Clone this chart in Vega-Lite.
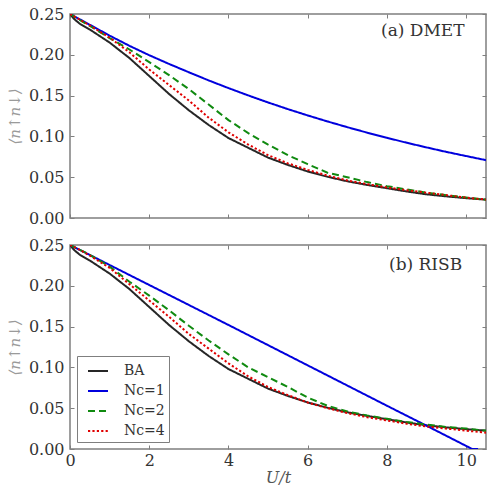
{
  "$schema": "https://vega.github.io/schema/vega-lite/v6.json",
  "padding": {"top": 5, "left": 6, "right": 0, "bottom": 0},
  "bounds": "flush",
  "spacing": 27,
  "datasets": {
    "curves": [
      {"m": "exact", "s": "BA", "U": 0, "d": 0.25},
      {"m": "exact", "s": "BA", "U": 0.1, "d": 0.244},
      {"m": "exact", "s": "BA", "U": 0.25, "d": 0.238},
      {"m": "exact", "s": "BA", "U": 0.5, "d": 0.231},
      {"m": "exact", "s": "BA", "U": 1.0, "d": 0.215},
      {"m": "exact", "s": "BA", "U": 1.5, "d": 0.196},
      {"m": "exact", "s": "BA", "U": 2.0, "d": 0.174},
      {"m": "exact", "s": "BA", "U": 2.5, "d": 0.152},
      {"m": "exact", "s": "BA", "U": 3.0, "d": 0.132},
      {"m": "exact", "s": "BA", "U": 3.5, "d": 0.114},
      {"m": "exact", "s": "BA", "U": 4.0, "d": 0.098},
      {"m": "exact", "s": "BA", "U": 4.5, "d": 0.086},
      {"m": "exact", "s": "BA", "U": 5.0, "d": 0.074},
      {"m": "exact", "s": "BA", "U": 5.5, "d": 0.065},
      {"m": "exact", "s": "BA", "U": 6.0, "d": 0.057},
      {"m": "exact", "s": "BA", "U": 6.5, "d": 0.0505},
      {"m": "exact", "s": "BA", "U": 7.0, "d": 0.045},
      {"m": "exact", "s": "BA", "U": 7.5, "d": 0.0405},
      {"m": "exact", "s": "BA", "U": 8.0, "d": 0.0365},
      {"m": "exact", "s": "BA", "U": 8.5, "d": 0.0325},
      {"m": "exact", "s": "BA", "U": 9.0, "d": 0.029},
      {"m": "exact", "s": "BA", "U": 9.5, "d": 0.0265},
      {"m": "exact", "s": "BA", "U": 10.0, "d": 0.0243},
      {"m": "exact", "s": "BA", "U": 10.5, "d": 0.0225},

      {"m": "DMET", "s": "Nc=1", "U": 0, "d": 0.25},
      {"m": "DMET", "s": "Nc=1", "U": 0.5, "d": 0.2368},
      {"m": "DMET", "s": "Nc=1", "U": 1.0, "d": 0.2235},
      {"m": "DMET", "s": "Nc=1", "U": 1.5, "d": 0.211},
      {"m": "DMET", "s": "Nc=1", "U": 2.0, "d": 0.1995},
      {"m": "DMET", "s": "Nc=1", "U": 2.5, "d": 0.1888},
      {"m": "DMET", "s": "Nc=1", "U": 3.0, "d": 0.1786},
      {"m": "DMET", "s": "Nc=1", "U": 3.5, "d": 0.1686},
      {"m": "DMET", "s": "Nc=1", "U": 4.0, "d": 0.1592},
      {"m": "DMET", "s": "Nc=1", "U": 4.5, "d": 0.1502},
      {"m": "DMET", "s": "Nc=1", "U": 5.0, "d": 0.1416},
      {"m": "DMET", "s": "Nc=1", "U": 5.5, "d": 0.1334},
      {"m": "DMET", "s": "Nc=1", "U": 6.0, "d": 0.1257},
      {"m": "DMET", "s": "Nc=1", "U": 6.5, "d": 0.1183},
      {"m": "DMET", "s": "Nc=1", "U": 7.0, "d": 0.1113},
      {"m": "DMET", "s": "Nc=1", "U": 7.5, "d": 0.1046},
      {"m": "DMET", "s": "Nc=1", "U": 8.0, "d": 0.0983},
      {"m": "DMET", "s": "Nc=1", "U": 8.5, "d": 0.0922},
      {"m": "DMET", "s": "Nc=1", "U": 9.0, "d": 0.0865},
      {"m": "DMET", "s": "Nc=1", "U": 9.5, "d": 0.081},
      {"m": "DMET", "s": "Nc=1", "U": 10.0, "d": 0.0759},
      {"m": "DMET", "s": "Nc=1", "U": 10.5, "d": 0.0709},

      {"m": "DMET", "s": "Nc=2", "U": 0, "d": 0.25},
      {"m": "DMET", "s": "Nc=2", "U": 0.25, "d": 0.2425},
      {"m": "DMET", "s": "Nc=2", "U": 0.5, "d": 0.2355},
      {"m": "DMET", "s": "Nc=2", "U": 1.0, "d": 0.2205},
      {"m": "DMET", "s": "Nc=2", "U": 1.5, "d": 0.2065},
      {"m": "DMET", "s": "Nc=2", "U": 2.0, "d": 0.191},
      {"m": "DMET", "s": "Nc=2", "U": 2.5, "d": 0.175},
      {"m": "DMET", "s": "Nc=2", "U": 3.0, "d": 0.158},
      {"m": "DMET", "s": "Nc=2", "U": 3.5, "d": 0.139},
      {"m": "DMET", "s": "Nc=2", "U": 4.0, "d": 0.120},
      {"m": "DMET", "s": "Nc=2", "U": 4.5, "d": 0.104},
      {"m": "DMET", "s": "Nc=2", "U": 5.0, "d": 0.090},
      {"m": "DMET", "s": "Nc=2", "U": 5.5, "d": 0.077},
      {"m": "DMET", "s": "Nc=2", "U": 6.0, "d": 0.066},
      {"m": "DMET", "s": "Nc=2", "U": 6.5, "d": 0.0555},
      {"m": "DMET", "s": "Nc=2", "U": 7.0, "d": 0.050},
      {"m": "DMET", "s": "Nc=2", "U": 7.5, "d": 0.044},
      {"m": "DMET", "s": "Nc=2", "U": 8.0, "d": 0.039},
      {"m": "DMET", "s": "Nc=2", "U": 8.5, "d": 0.035},
      {"m": "DMET", "s": "Nc=2", "U": 9.0, "d": 0.031},
      {"m": "DMET", "s": "Nc=2", "U": 9.5, "d": 0.028},
      {"m": "DMET", "s": "Nc=2", "U": 10.0, "d": 0.025},
      {"m": "DMET", "s": "Nc=2", "U": 10.5, "d": 0.0225},

      {"m": "DMET", "s": "Nc=4", "U": 0, "d": 0.25},
      {"m": "DMET", "s": "Nc=4", "U": 0.25, "d": 0.243},
      {"m": "DMET", "s": "Nc=4", "U": 0.5, "d": 0.236},
      {"m": "DMET", "s": "Nc=4", "U": 1.0, "d": 0.221},
      {"m": "DMET", "s": "Nc=4", "U": 1.5, "d": 0.203},
      {"m": "DMET", "s": "Nc=4", "U": 2.0, "d": 0.182},
      {"m": "DMET", "s": "Nc=4", "U": 2.5, "d": 0.163},
      {"m": "DMET", "s": "Nc=4", "U": 3.0, "d": 0.144},
      {"m": "DMET", "s": "Nc=4", "U": 3.5, "d": 0.123},
      {"m": "DMET", "s": "Nc=4", "U": 4.0, "d": 0.105},
      {"m": "DMET", "s": "Nc=4", "U": 4.5, "d": 0.090},
      {"m": "DMET", "s": "Nc=4", "U": 5.0, "d": 0.077},
      {"m": "DMET", "s": "Nc=4", "U": 5.5, "d": 0.067},
      {"m": "DMET", "s": "Nc=4", "U": 6.0, "d": 0.059},
      {"m": "DMET", "s": "Nc=4", "U": 6.5, "d": 0.052},
      {"m": "DMET", "s": "Nc=4", "U": 7.0, "d": 0.046},
      {"m": "DMET", "s": "Nc=4", "U": 7.5, "d": 0.0415},
      {"m": "DMET", "s": "Nc=4", "U": 8.0, "d": 0.0375},
      {"m": "DMET", "s": "Nc=4", "U": 8.5, "d": 0.034},
      {"m": "DMET", "s": "Nc=4", "U": 9.0, "d": 0.031},
      {"m": "DMET", "s": "Nc=4", "U": 9.5, "d": 0.028},
      {"m": "DMET", "s": "Nc=4", "U": 10.0, "d": 0.025},
      {"m": "DMET", "s": "Nc=4", "U": 10.5, "d": 0.0225},

      {"m": "RISB", "s": "Nc=1", "U": 0, "d": 0.25},
      {"m": "RISB", "s": "Nc=1", "U": 2.0, "d": 0.201},
      {"m": "RISB", "s": "Nc=1", "U": 4.0, "d": 0.152},
      {"m": "RISB", "s": "Nc=1", "U": 6.0, "d": 0.1025},
      {"m": "RISB", "s": "Nc=1", "U": 8.0, "d": 0.053},
      {"m": "RISB", "s": "Nc=1", "U": 9.0, "d": 0.0285},
      {"m": "RISB", "s": "Nc=1", "U": 10.15, "d": 0.0},
      {"m": "RISB", "s": "Nc=1", "U": 10.3, "d": 0.0},

      {"m": "RISB", "s": "Nc=2", "U": 0, "d": 0.25},
      {"m": "RISB", "s": "Nc=2", "U": 0.5, "d": 0.238},
      {"m": "RISB", "s": "Nc=2", "U": 1.0, "d": 0.2235},
      {"m": "RISB", "s": "Nc=2", "U": 1.5, "d": 0.205},
      {"m": "RISB", "s": "Nc=2", "U": 2.0, "d": 0.188},
      {"m": "RISB", "s": "Nc=2", "U": 2.5, "d": 0.170},
      {"m": "RISB", "s": "Nc=2", "U": 3.0, "d": 0.151},
      {"m": "RISB", "s": "Nc=2", "U": 3.5, "d": 0.133},
      {"m": "RISB", "s": "Nc=2", "U": 4.0, "d": 0.116},
      {"m": "RISB", "s": "Nc=2", "U": 4.5, "d": 0.100},
      {"m": "RISB", "s": "Nc=2", "U": 5.0, "d": 0.088},
      {"m": "RISB", "s": "Nc=2", "U": 5.5, "d": 0.076},
      {"m": "RISB", "s": "Nc=2", "U": 6.0, "d": 0.063},
      {"m": "RISB", "s": "Nc=2", "U": 6.5, "d": 0.053},
      {"m": "RISB", "s": "Nc=2", "U": 7.0, "d": 0.046},
      {"m": "RISB", "s": "Nc=2", "U": 7.5, "d": 0.041},
      {"m": "RISB", "s": "Nc=2", "U": 8.0, "d": 0.037},
      {"m": "RISB", "s": "Nc=2", "U": 8.5, "d": 0.033},
      {"m": "RISB", "s": "Nc=2", "U": 9.0, "d": 0.030},
      {"m": "RISB", "s": "Nc=2", "U": 9.5, "d": 0.027},
      {"m": "RISB", "s": "Nc=2", "U": 10.0, "d": 0.025},
      {"m": "RISB", "s": "Nc=2", "U": 10.5, "d": 0.0225},

      {"m": "RISB", "s": "Nc=4", "U": 0, "d": 0.25},
      {"m": "RISB", "s": "Nc=4", "U": 0.25, "d": 0.244},
      {"m": "RISB", "s": "Nc=4", "U": 0.5, "d": 0.237},
      {"m": "RISB", "s": "Nc=4", "U": 1.0, "d": 0.222},
      {"m": "RISB", "s": "Nc=4", "U": 1.5, "d": 0.202},
      {"m": "RISB", "s": "Nc=4", "U": 2.0, "d": 0.182},
      {"m": "RISB", "s": "Nc=4", "U": 2.5, "d": 0.162},
      {"m": "RISB", "s": "Nc=4", "U": 3.0, "d": 0.141},
      {"m": "RISB", "s": "Nc=4", "U": 3.5, "d": 0.123},
      {"m": "RISB", "s": "Nc=4", "U": 4.0, "d": 0.105},
      {"m": "RISB", "s": "Nc=4", "U": 4.5, "d": 0.089},
      {"m": "RISB", "s": "Nc=4", "U": 5.0, "d": 0.076},
      {"m": "RISB", "s": "Nc=4", "U": 5.5, "d": 0.066},
      {"m": "RISB", "s": "Nc=4", "U": 6.0, "d": 0.057},
      {"m": "RISB", "s": "Nc=4", "U": 6.5, "d": 0.050},
      {"m": "RISB", "s": "Nc=4", "U": 7.0, "d": 0.044},
      {"m": "RISB", "s": "Nc=4", "U": 7.5, "d": 0.039},
      {"m": "RISB", "s": "Nc=4", "U": 8.0, "d": 0.035},
      {"m": "RISB", "s": "Nc=4", "U": 8.5, "d": 0.031},
      {"m": "RISB", "s": "Nc=4", "U": 9.0, "d": 0.0275},
      {"m": "RISB", "s": "Nc=4", "U": 9.5, "d": 0.025},
      {"m": "RISB", "s": "Nc=4", "U": 10.0, "d": 0.0225},
      {"m": "RISB", "s": "Nc=4", "U": 10.5, "d": 0.020}
    ],
    "panels": [
      {"m": "DMET", "label": "(a) DMET", "U": 9.96, "d": 0.229},
      {"m": "RISB", "label": "(b) RISB", "U": 9.9, "d": 0.226}
    ]
  },
  "vconcat": [
    {
      "width": 416,
      "height": 204,
      "layer": [
        {
          "data": {"name": "curves"},
          "transform": [{"filter": "datum.m !== 'RISB'"}],
          "mark": {"type": "line", "strokeWidth": 2, "strokeCap": "butt", "clip": true},
          "encoding": {
            "x": {"field": "U", "type": "quantitative", "scale": {"domain": [0, 10.5], "nice": false, "zero": false},
                  "axis": {"orient": "bottom", "labels": false, "title": null, "values": [0, 2, 4, 6, 8, 10]}},
            "y": {"field": "d", "type": "quantitative", "scale": {"domain": [0, 0.25], "nice": false},
                  "axis": {"orient": "left", "values": [0, 0.05, 0.1, 0.15, 0.2, 0.25], "format": ".2f", "title": "⟨n↑n↓⟩"}},
            "color": {"field": "s", "type": "nominal", "legend": null,
                      "scale": {"domain": ["BA", "Nc=1", "Nc=2", "Nc=4"], "range": ["#262626", "#0000dd", "#108a10", "#e00000"]}},
            "strokeDash": {"field": "s", "type": "nominal", "legend": null,
                           "scale": {"domain": ["BA", "Nc=1", "Nc=2", "Nc=4"], "range": [[1, 0], [1, 0], [7, 4], [2.2, 2.2]]}}
          }
        },
        {
          "data": {"name": "panels"},
          "transform": [{"filter": "datum.m === 'DMET'"}],
          "mark": {"type": "text", "align": "right", "baseline": "middle", "fontSize": 17, "font": "DejaVu Serif", "color": "#333333"},
          "encoding": {
            "text": {"field": "label"},
            "x": {"field": "U", "type": "quantitative",
                  "axis": {"orient": "top", "labels": false, "title": null, "values": [0, 2, 4, 6, 8, 10]}},
            "y": {"field": "d", "type": "quantitative",
                  "axis": {"orient": "right", "labels": false, "title": null, "values": [0, 0.05, 0.1, 0.15, 0.2, 0.25]}}
          }
        }
      ],
      "resolve": {"axis": {"x": "independent", "y": "independent"}}
    },
    {
      "width": 416,
      "height": 204,
      "layer": [
        {
          "data": {"name": "curves"},
          "transform": [{"filter": "datum.m !== 'DMET'"}],
          "mark": {"type": "line", "strokeWidth": 2, "strokeCap": "butt", "clip": true},
          "encoding": {
            "x": {"field": "U", "type": "quantitative", "scale": {"domain": [0, 10.5], "nice": false, "zero": false},
                  "axis": {"orient": "bottom", "values": [0, 2, 4, 6, 8, 10], "title": "U/t"}},
            "y": {"field": "d", "type": "quantitative", "scale": {"domain": [0, 0.25], "nice": false},
                  "axis": {"orient": "left", "values": [0, 0.05, 0.1, 0.15, 0.2, 0.25], "format": ".2f", "title": "⟨n↑n↓⟩"}},
            "color": {"field": "s", "type": "nominal",
                      "scale": {"domain": ["BA", "Nc=1", "Nc=2", "Nc=4"], "range": ["#262626", "#0000dd", "#108a10", "#e00000"]},
                      "legend": {"orient": "bottom-left", "offset": 7, "title": null}},
            "strokeDash": {"field": "s", "type": "nominal",
                           "scale": {"domain": ["BA", "Nc=1", "Nc=2", "Nc=4"], "range": [[1, 0], [1, 0], [7, 4], [2.2, 2.2]]},
                           "legend": {"orient": "bottom-left", "offset": 7, "title": null}}
          }
        },
        {
          "data": {"name": "panels"},
          "transform": [{"filter": "datum.m === 'RISB'"}],
          "mark": {"type": "text", "align": "right", "baseline": "middle", "fontSize": 17, "font": "DejaVu Serif", "color": "#333333"},
          "encoding": {
            "text": {"field": "label"},
            "x": {"field": "U", "type": "quantitative",
                  "axis": {"orient": "top", "labels": false, "title": null, "values": [0, 2, 4, 6, 8, 10]}},
            "y": {"field": "d", "type": "quantitative",
                  "axis": {"orient": "right", "labels": false, "title": null, "values": [0, 0.05, 0.1, 0.15, 0.2, 0.25]}}
          }
        }
      ],
      "resolve": {"axis": {"x": "independent", "y": "independent"}}
    }
  ],
  "resolve": {"scale": {"color": "independent", "strokeDash": "independent"}},
  "config": {
    "font": "DejaVu Serif",
    "view": {"stroke": "#7f7f7f", "strokeWidth": 1.5},
    "axis": {
      "grid": false,
      "domain": false,
      "ticks": true,
      "tickColor": "#7f7f7f",
      "tickWidth": 1,
      "tickSize": -4,
      "labelFont": "DejaVu Serif",
      "labelFontSize": 16,
      "labelColor": "#333333",
      "labelOverlap": false,
      "labelFlush": false,
      "titleFont": "DejaVu Serif",
      "titleFontStyle": "italic",
      "titleFontWeight": "normal",
      "titleFontSize": 15
    },
    "axisLeft": {"labelPadding": 10, "titleColor": "#9a9a9a", "titlePadding": 6},
    "axisBottom": {"labelPadding": 7, "titleColor": "#555555", "titlePadding": 1, "titleFontSize": 16},
    "legend": {
      "fillColor": "#ffffff",
      "strokeColor": "#7f7f7f",
      "padding": 4,
      "symbolType": "stroke",
      "symbolStrokeWidth": 2,
      "symbolSize": 400,
      "symbolOffset": 6,
      "labelOffset": 15,
      "labelFont": "DejaVu Serif",
      "labelFontSize": 14,
      "labelColor": "#333333",
      "rowPadding": 2,
      "cornerRadius": 0
    }
  }
}
